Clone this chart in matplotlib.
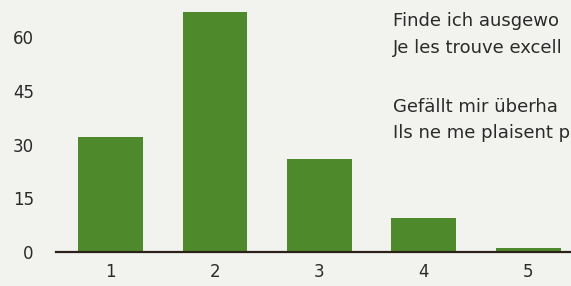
import matplotlib
matplotlib.use("Agg")
import matplotlib.pyplot as plt

# Werte
kategorien = ["1", "2", "3", "4", "5"]
werte = [32, 67, 26, 9.5, 1]
y_ticks = [0, 15, 30, 45, 60]
# Beschriftung rechts oben, so wie sie im Bild sichtbar ist (dort abgeschnitten)
legende_de = ["Finde ich ausgewo", "Gefällt mir überha"]
legende_fr = ["Je les trouve excell", "Ils ne me plaisent p"]

GRUEN = "#4e8a2c"
TEXT = "#2a2a2a"
HINTERGRUND = "#f2f2ef"

plt.rcParams["font.family"] = ["DejaVu Sans"]

W, H = 571, 286
fig = plt.figure(figsize=(W / 100, H / 100), dpi=100, facecolor=HINTERGRUND)
ax = fig.add_axes([56 / W, 1 - 252 / H, 1 - 56 / W, 252 / H])
ax.set_facecolor(HINTERGRUND)

pos = list(range(1, len(kategorien) + 1))
ax.bar(pos, werte, width=0.62, color=GRUEN, zorder=2)

ax.set_xlim(0.478, 5.41)
ax.set_ylim(0, 70.4)
ax.set_yticks(y_ticks)
ax.set_yticklabels([str(v) for v in y_ticks], fontsize=12, color=TEXT)
ax.set_xticks(pos)
ax.set_xticklabels(kategorien, fontsize=12, color=TEXT)
ax.tick_params(axis="y", length=0, pad=16)
ax.tick_params(axis="x", length=0, pad=8)

for s in ["top", "right", "left"]:
    ax.spines[s].set_visible(False)
ax.spines["bottom"].set_color("#2b2118")
ax.spines["bottom"].set_linewidth(1.6)
ax.spines["bottom"].set_zorder(3)

zeilen = [(legende_de[0], 21), (legende_fr[0], 48), (legende_de[1], 107), (legende_fr[1], 133)]
for txt, y in zeilen:
    fig.text(393 / W, 1 - y / H, txt, fontsize=13, color=TEXT, va="center", ha="left")

fig.savefig("out.png", dpi=100, facecolor=HINTERGRUND)
